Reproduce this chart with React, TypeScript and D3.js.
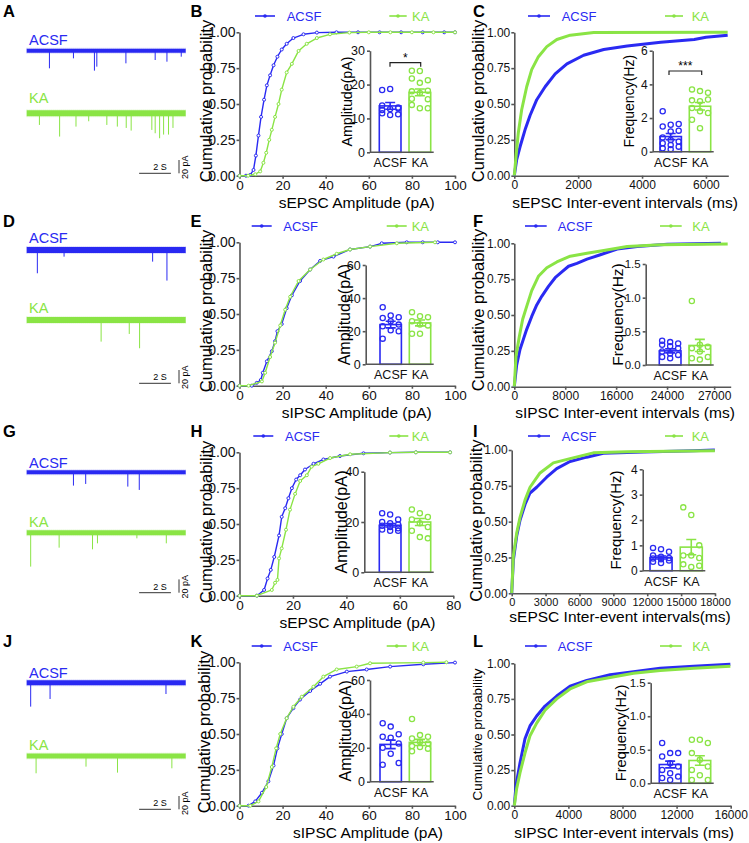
import React, { useRef, useEffect } from 'react';
import * as d3 from 'd3';

type Pt = [number, number];

const FONT = '"Liberation Sans", Arial, Helvetica, sans-serif';
const BLUE = '#2a2af2';
const GREEN = '#8ae445';
const AXIS = '#565656';

const groups = ['ACSF', 'KA'];
const probTicks = [0, 0.25, 0.5, 0.75, 1];

// example traces: [time (s), event amplitude (pA)]
const traceA_ACSF: Pt[] = [[1.43, 26.5], [2.94, 11.5], [4.26, 30], [4.41, 24], [6.24, 19], [8.08, 14], [8.82, 16.5], [9.72, 9]];
const traceA_KA: Pt[] = [[0.8, 17.5], [2.07, 35], [3.1, 20], [3.9, 12], [5.04, 17.5], [5.7, 20], [6.26, 22], [6.57, 26], [7.87, 25], [8.08, 30], [8.36, 37.5], [8.61, 32], [8.92, 32], [9.2, 22]];
const traceD_ACSF: Pt[] = [[0.67, 35], [2.35, 10], [7.92, 17.5], [8.82, 46]];
const traceD_KA: Pt[] = [[4.68, 32.5], [6.45, 21], [7.1, 42.5]];
const traceG_ACSF: Pt[] = [[2.94, 20], [3.71, 17.5], [6.36, 21.5], [7.08, 26.5]];
const traceG_KA: Pt[] = [[0.25, 51], [2.04, 22.5], [4.14, 25], [4.45, 16], [6.93, 8.5], [8.78, 16]];
const traceJ_ACSF: Pt[] = [[0.25, 36], [1.47, 24.5], [8.76, 17]];
const traceJ_KA: Pt[] = [[0.59, 26], [3.73, 16], [5.71, 25], [9.13, 18.5]];

// cumulative probability curves: [value, probability]
const cdfB_ACSF: Pt[] = [[0, 0], [3, 0], [5, 0.005], [6.5, 0.04], [7.6, 0.14], [8.8, 0.28], [10, 0.41], [11.4, 0.53], [12.7, 0.63], [14.2, 0.7], [15.8, 0.77], [17.6, 0.83], [19.6, 0.88], [21.9, 0.92], [25, 0.96], [29.7, 0.986], [35.9, 0.998], [45, 1], [55, 1], [65, 1], [75, 1], [85, 1], [95, 1], [100, 1]];
const cdfB_KA: Pt[] = [[0, 0], [4, 0], [7.3, 0.01], [9.6, 0.03], [11.1, 0.09], [12.4, 0.16], [13.8, 0.25], [15, 0.32], [16.5, 0.41], [18.1, 0.5], [19.6, 0.6], [21.9, 0.72], [24.3, 0.78], [27.4, 0.87], [31.2, 0.92], [35.9, 0.96], [42, 0.986], [51, 0.998], [60, 1], [70, 1], [80, 1], [90, 1], [100, 1]];
const cdfC_ACSF: Pt[] = [[0, 0], [73, 0.11], [178, 0.2], [336, 0.32], [493, 0.42], [703, 0.53], [965, 0.62], [1280, 0.71], [1647, 0.78], [2171, 0.84], [2800, 0.88], [3535, 0.905], [4584, 0.93], [5633, 0.95], [6000, 0.965], [6680, 0.98]];
const cdfC_KA: Pt[] = [[0, 0], [52, 0.13], [126, 0.3], [231, 0.46], [388, 0.62], [545, 0.74], [755, 0.83], [1017, 0.9], [1332, 0.95], [1752, 0.98], [2486, 0.998], [6680, 1]];
const cdfE_ACSF: Pt[] = [[0, 0], [5.7, 0], [8, 0.02], [9.9, 0.04], [10.8, 0.09], [12.7, 0.17], [15, 0.24], [16.5, 0.31], [17.6, 0.38], [19.6, 0.43], [21.9, 0.54], [24.3, 0.63], [28.1, 0.73], [32.8, 0.81], [37.4, 0.87], [43.6, 0.9], [51.3, 0.95], [60.6, 0.97], [66, 0.993], [77.6, 1], [85, 1], [92, 1], [100, 1]];
const cdfE_KA: Pt[] = [[0, 0], [4.2, 0], [10.4, 0.03], [11.9, 0.09], [14.2, 0.2], [16.5, 0.3], [18.9, 0.42], [21.2, 0.53], [23.5, 0.62], [27.4, 0.73], [32.8, 0.81], [38.9, 0.88], [45.1, 0.92], [51.3, 0.95], [60.6, 0.97], [73, 0.993], [90.7, 1]];
const cdfF_ACSF: Pt[] = [[0, 0], [368, 0.15], [895, 0.26], [1421, 0.33], [1947, 0.4], [2737, 0.49], [3526, 0.57], [4316, 0.63], [5368, 0.7], [6421, 0.76], [7474, 0.8], [8526, 0.84], [9842, 0.86], [11421, 0.89], [13526, 0.92], [16158, 0.96], [19316, 0.977], [24053, 0.993], [32474, 1]];
const cdfF_KA: Pt[] = [[0, 0], [263, 0.21], [789, 0.35], [1316, 0.47], [1947, 0.56], [2737, 0.67], [3789, 0.77], [5105, 0.83], [6684, 0.87], [8789, 0.91], [11421, 0.93], [14053, 0.95], [17737, 0.977], [23000, 0.99], [33526, 0.995]];
const cdfH_ACSF: Pt[] = [[0, 0], [6.5, 0], [9.2, 0.04], [10.5, 0.12], [11.7, 0.18], [13, 0.27], [14.8, 0.42], [15.8, 0.55], [17.1, 0.61], [18.3, 0.68], [19.6, 0.75], [21.2, 0.81], [22.7, 0.84], [24.5, 0.88], [27.7, 0.92], [31.4, 0.95], [37.6, 0.974], [46.4, 0.993], [56.3, 0.998], [66, 1], [78.8, 1]];
const cdfH_KA: Pt[] = [[0, 0], [6.5, 0], [12.1, 0.04], [13.3, 0.09], [14.2, 0.11], [14.8, 0.26], [15.8, 0.33], [17.4, 0.46], [18.9, 0.6], [20.8, 0.71], [22.7, 0.8], [25.2, 0.84], [27, 0.9], [29.5, 0.92], [33.9, 0.96], [41.4, 0.986], [56.3, 0.998], [66, 1], [78.8, 1]];
const cdfI_ACSF: Pt[] = [[0, 0], [147, 0.23], [442, 0.4], [737, 0.51], [1180, 0.62], [1622, 0.7], [2212, 0.74], [3097, 0.81], [3982, 0.87], [5162, 0.92], [6637, 0.95], [8112, 0.977], [11652, 0.986], [16076, 0.995], [17990, 1]];
const cdfI_KA: Pt[] = [[0, 0], [147, 0.26], [442, 0.42], [737, 0.53], [1180, 0.65], [1622, 0.74], [2507, 0.84], [3687, 0.91], [5162, 0.94], [7227, 0.98], [10177, 0.988], [17990, 0.995]];
const cdfK_ACSF: Pt[] = [[0, 0], [4.2, 0], [7.3, 0.03], [10.4, 0.09], [13.4, 0.17], [15.8, 0.28], [17.6, 0.4], [19.6, 0.5], [21.9, 0.61], [25, 0.68], [28.1, 0.74], [32.8, 0.8], [37.4, 0.85], [42, 0.9], [49.8, 0.935], [59, 0.95], [69.9, 0.97], [85.3, 0.986], [100, 0.998]];
const cdfK_KA: Pt[] = [[0, 0], [5, 0], [8.8, 0.03], [12.4, 0.13], [15, 0.27], [17, 0.4], [18.9, 0.5], [21.9, 0.61], [25, 0.69], [28.9, 0.76], [34.3, 0.83], [38.9, 0.9], [45.1, 0.95], [54.4, 0.97], [60.6, 0.993], [85.3, 0.998], [96, 1]];
const cdfL_ACSF: Pt[] = [[0, 0], [123, 0.14], [420, 0.3], [790, 0.47], [1160, 0.56], [1654, 0.63], [2272, 0.7], [3136, 0.77], [4123, 0.84], [5358, 0.88], [7086, 0.92], [8815, 0.94], [10790, 0.965], [13259, 0.98], [15975, 0.993]];
const cdfL_KA: Pt[] = [[0, 0], [173, 0.12], [420, 0.23], [790, 0.37], [1160, 0.49], [1654, 0.58], [2272, 0.67], [3136, 0.75], [4123, 0.82], [5358, 0.87], [7086, 0.9], [8815, 0.93], [10790, 0.95], [13259, 0.965], [15975, 0.98]];

// inset bars: individual cells, group means, SEM
const barB_ACSF = [18.4, 18.7, 13.2, 13.8, 12.8, 11.2, 11.5, 11.0, 13.0, 12.5];
const barB_KA = [24.1, 24.0, 21.3, 21.8, 20.5, 18.2, 18.0, 17.5, 15.7, 15.8, 13.0, 13.0, 14.0];
const meanB = [13.7, 17.7];
const semB = [1.0, 1.0];
const barC_ACSF = [2.4, 1.6, 1.65, 1.5, 1.2, 1.25, 0.85, 0.7, 0.6, 0.5, 0.4, 0.3, 0.2, 0.15];
const barC_KA = [3.7, 3.6, 3.5, 3.05, 3.0, 3.1, 2.6, 2.4, 2.3, 1.9, 1.4];
const meanC = [0.9, 2.7];
const semC = [0.18, 0.22];
const barE_ACSF = [34.5, 29.5, 28.5, 28, 26, 24, 23, 20.5, 20, 15.5];
const barE_KA = [31.5, 29, 28.5, 26, 24, 23.5, 18.5, 18.5];
const meanE = [24, 25];
const semE = [2, 1.8];
const barF_ACSF = [0.36, 0.34, 0.32, 0.3, 0.28, 0.25, 0.2, 0.17, 0.15, 0.12, 0.1];
const barF_KA = [0.95, 0.3, 0.27, 0.25, 0.2, 0.12, 0.1, 0.08];
const meanF = [0.21, 0.29];
const semF = [0.03, 0.09];
const barH_ACSF = [23.5, 23, 21, 20, 19.5, 19, 18.5, 18, 17.5, 17, 16.5, 16.5];
const barH_KA = [25, 23.5, 22, 21, 19.5, 18, 16.5, 14, 13.5];
const meanH = [18.7, 20];
const semH = [0.7, 1.4];
const barI_ACSF = [0.9, 0.85, 0.75, 0.6, 0.55, 0.5, 0.48, 0.45, 0.4, 0.35, 0.3];
const barI_KA = [2.5, 2.2, 1.0, 0.6, 0.6, 0.5, 0.25, 0.15, 0.2];
const meanI = [0.52, 0.93];
const semI = [0.06, 0.3];
const barK_ACSF = [34.5, 32.5, 28, 26.5, 26, 22.5, 20, 16.5, 11, 10];
const barK_KA = [37, 27.5, 26.5, 25.5, 23.5, 22.5, 21, 20.5, 19.5, 18];
const meanK = [22, 23.2];
const semK = [2.5, 1.8];
const barL_ACSF = [0.6, 0.45, 0.45, 0.4, 0.3, 0.25, 0.2, 0.15, 0.1, 0.08, 0.05];
const barL_KA = [0.65, 0.65, 0.6, 0.45, 0.35, 0.25, 0.2, 0.12, 0.05, 0.05];
const meanL = [0.28, 0.34];
const semL = [0.05, 0.07];

function Axis({ scale, orient, tx = 0, ty = 0, ticks, labels, fmt, fontSize, tickSize = 3, pad = 1, hideDomain = false }: any) {
  const ref = useRef<SVGGElement>(null);
  useEffect(() => {
    const gen: any = orient === 'left' ? d3.axisLeft(scale) : d3.axisBottom(scale);
    gen.tickSizeOuter(0).tickSizeInner(tickSize).tickPadding(pad);
    if (ticks) gen.tickValues(ticks);
    if (labels) gen.tickFormat((_d: any, i: number) => labels[i]);
    else if (fmt) gen.tickFormat(fmt);
    const g = d3.select(ref.current);
    g.selectAll('*').remove();
    g.call(gen);
    g.attr('font-family', FONT).attr('font-size', fontSize);
    g.select('.domain').attr('stroke', AXIS).attr('stroke-width', 1.6).attr('display', hideDomain ? 'none' : null);
    g.selectAll('.tick line').attr('stroke', AXIS).attr('stroke-width', 1.6);
    g.selectAll('.tick text').attr('fill', '#111');
  });
  return <g ref={ref} transform={`translate(${tx},${ty})`} />;
}

function CdfPanel({ p }: any) {
  const xs = d3.scaleLinear().domain(p.domain).range([p.x0, p.x1]);
  const ys = d3.scaleLinear().domain([0, 1]).range([p.yBot, p.yTop]);
  const line = d3.line<Pt>().x(d => xs(d[0])).y(d => ys(d[1]));
  const series = [{ data: p.acsf, color: BLUE }, { data: p.ka, color: GREEN }];
  return (
    <g>
      <Axis scale={ys} orient="left" tx={p.x0} ticks={probTicks} fmt={d3.format('.2f')} fontSize={p.yTickFont} />
      <Axis scale={xs} orient="bottom" ty={p.yBot} ticks={p.xTicks} labels={p.xLabels} fmt={d3.format('d')} fontSize={p.xTickFont} pad={2} />
      {series.map((s, i) => (
        <g key={i}>
          <path d={line(s.data) || ''} fill="none" stroke={s.color} strokeWidth={p.lw} strokeLinejoin="round" />
          {p.markers && s.data.map((d: Pt, j: number) => (
            <circle key={j} cx={xs(d[0])} cy={ys(d[1])} r={1.5} fill="#fff" stroke={s.color} strokeWidth={1} />
          ))}
        </g>
      ))}
      <text transform={`translate(${p.yTitleX},${(p.yTop + p.yBot) / 2 + p.yTitleDy}) rotate(-90)`} textAnchor="middle"
        dominantBaseline="central" fontSize={p.yTitleSize}>Cumulative probability</text>
      <text x={p.xTitleX} y={p.xTitleY} textAnchor="middle" dominantBaseline="central" fontSize={15.5}>{p.xTitle}</text>
    </g>
  );
}

const spread = [-8, 0, 8];

function Inset({ p }: any) {
  const ys = d3.scaleLinear().domain([0, p.max]).range([p.yBot, p.yTop]);
  const band = d3.scaleBand().domain(groups).range([p.bx0, p.bx1]).paddingInner(0.27);
  const bw = band.bandwidth();
  const cols = [BLUE, GREEN];
  const pts = [p.acsf, p.ka];
  return (
    <g>
      {groups.map((g, i) => {
        const cx = (band(g) as number) + bw / 2;
        const m = p.mean[i], s = p.sem[i];
        return (
          <g key={g}>
            <rect x={band(g)} y={ys(m)} width={bw} height={p.yBot - ys(m)} fill="none" stroke={cols[i]} strokeWidth={1.6} />
            {pts[i].map((v: number, j: number) => (
              <circle key={j} cx={cx + spread[j % 3]} cy={ys(v)} r={2.6} fill="none" stroke={cols[i]} strokeWidth={1.3} />
            ))}
            <path d={`M${cx},${ys(m - s)}V${ys(m + s)}M${cx - 5},${ys(m + s)}H${cx + 5}M${cx - 5},${ys(m - s)}H${cx + 5}`}
              stroke={cols[i]} strokeWidth={1.6} fill="none" />
          </g>
        );
      })}
      <Axis scale={ys} orient="left" tx={p.ax} ticks={p.ticks} fmt={p.fmt} fontSize={p.tickFont} tickSize={3} pad={2} />
      <line x1={p.ax} x2={p.bx1 + 3} y1={p.yBot} y2={p.yBot} stroke={AXIS} strokeWidth={1.6} />
      <Axis scale={band} orient="bottom" ty={p.yBot} fontSize={12.5} tickSize={0} pad={6} hideDomain />
      <text transform={`translate(${p.titleX},${(p.yTop + p.yBot) / 2}) rotate(-90)`} textAnchor="middle"
        dominantBaseline="central" fontSize={p.titleSize}>{p.title}</text>
      {p.sig && (
        <g>
          <path d={`M${p.sig.x1},${p.sig.y + 4}V${p.sig.y}H${p.sig.x2}V${p.sig.y + 4}`} fill="none" stroke="#222" strokeWidth={1.2} />
          <text x={(p.sig.x1 + p.sig.x2) / 2} y={p.sig.y - 1} textAnchor="middle" fontSize={12}>{p.sig.text}</text>
        </g>
      )}
    </g>
  );
}

const tScale = d3.scaleLinear().domain([0, 10]).range([26.7, 185.7]);
const aScale = d3.scaleLinear().domain([0, 20]).range([0, 13.3]);

function Trace({ p }: any) {
  const rows = [
    { spikes: p.acsf, y: p.yA, ly: p.lyA, color: BLUE, name: 'ACSF', w: p.wA },
    { spikes: p.ka, y: p.yK, ly: p.lyK, color: GREEN, name: 'KA', w: p.wK },
  ];
  const x0 = tScale(7.07), x1 = x0 + tScale(2) - tScale(0);
  const vx = 179;
  return (
    <g>
      {rows.map(r => (
        <g key={r.name}>
          <text x={29} y={r.ly} dominantBaseline="central" fontSize={14.5} fill={r.color}>{r.name}</text>
          <line x1={tScale(0)} x2={tScale(10)} y1={r.y} y2={r.y} stroke={r.color} strokeWidth={r.w} />
          <line x1={tScale(0)} x2={tScale(10)} y1={r.y} y2={r.y} stroke={r.color} strokeWidth={r.w + 2}
            strokeDasharray="0.7 1.3" opacity={0.4} />
          {r.spikes.map((s: Pt, i: number) => (
            <line key={i} x1={tScale(s[0])} x2={tScale(s[0])} y1={r.y} y2={r.y + aScale(s[1])} stroke={r.color} strokeWidth={1} />
          ))}
        </g>
      ))}
      <path d={`M${x0},${p.sb}H${x1}`} stroke="#333" strokeWidth={1} />
      <path d={`M${vx},${p.sb - aScale(20)}V${p.sb}`} stroke="#333" strokeWidth={1} />
      <text x={(x0 + x1) / 2 + 5} y={p.sb - 3} textAnchor="middle" fontSize={9}>2 S</text>
      <text transform={`translate(${vx + 6},${p.sb - 6}) rotate(-90)`} textAnchor="middle" dominantBaseline="central" fontSize={9}>20 pA</text>
    </g>
  );
}

function Legend({ y, a }: any) {
  const items = [
    { x1: a[0], x2: a[1], tx: a[2], c: BLUE, t: 'ACSF' },
    { x1: a[3], x2: a[4], tx: a[5], c: GREEN, t: 'KA' },
  ];
  return (
    <g>
      {items.map(it => (
        <g key={it.t}>
          <line x1={it.x1} x2={it.x2} y1={y} y2={y} stroke={it.c} strokeWidth={1.6} />
          <circle cx={(it.x1 + it.x2) / 2} cy={y} r={1.8} fill={it.c} />
          <text x={it.tx} y={y} dominantBaseline="central" fontSize={13} fill={it.c}>{it.t}</text>
        </g>
      ))}
    </g>
  );
}

const ampBase = { x0: 239.5, markers: true, lw: 1.4, yTickFont: 14, xTickFont: 13.5, yTitleX: 205.5, yTitleSize: 16.5, yTitleDy: -3 };
const intBase = { markers: false, lw: 3, yTickFont: 12, xTickFont: 12, yTitleX: 477.5, yTitleSize: 16.5, yTitleDy: -3 };

const cdfPanels = [
  { ...ampBase, x1: 455, yTop: 32.3, yBot: 175.7, domain: [0, 100], xTicks: [0, 20, 40, 60, 80, 100], acsf: cdfB_ACSF, ka: cdfB_KA, xTitle: 'sEPSC Amplitude (pA)', xTitleX: 356.7, xTitleY: 202.5 },
  { ...intBase, x0: 514.3, x1: 728.3, yTop: 32.3, yBot: 175.7, domain: [0, 6700], xTicks: [0, 2000, 4000, 6000], acsf: cdfC_ACSF, ka: cdfC_KA, xTitle: 'sEPSC Inter-event intervals (ms)', xTitleX: 625, xTitleY: 202 },
  { ...ampBase, x1: 455, yTop: 242.3, yBot: 385.7, domain: [0, 100], xTicks: [0, 20, 40, 60, 80, 100], acsf: cdfE_ACSF, ka: cdfE_KA, xTitle: 'sIPSC Amplitude (pA)', xTitleX: 356.7, xTitleY: 412.5 },
  { ...intBase, x0: 514.3, x1: 730.7, yTop: 243.3, yBot: 386.7, domain: [0, 34000], xTicks: [0, 8000, 16000, 24000, 31400], xLabels: ['0', '8000', '16000', '24000', '27000'], acsf: cdfF_ACSF, ka: cdfF_KA, xTitle: 'sIPSC Inter-event intervals (ms)', xTitleX: 625, xTitleY: 412, yTitleDy: -5 },
  { ...ampBase, x1: 453.3, yTop: 452.3, yBot: 595.7, domain: [0, 80], xTicks: [0, 20, 40, 60, 80], acsf: cdfH_ACSF, ka: cdfH_KA, xTitle: 'sEPSC Amplitude (pA)', xTitleX: 357.5, xTitleY: 622, yTitleDy: -2 },
  { ...intBase, x0: 511.7, x1: 715, yTop: 450, yBot: 593.3, domain: [0, 18000], xTicks: [0, 3000, 6000, 9000, 12000, 15000, 18000], xTickFont: 11, acsf: cdfI_ACSF, ka: cdfI_KA, xTitle: 'sEPSC Inter-event intervals(ms)', xTitleX: 620, xTitleY: 616, yTitleX: 476, yTitleDy: -1 },
  { ...ampBase, x1: 455, yTop: 662.3, yBot: 805.7, domain: [0, 100], xTicks: [0, 20, 40, 60, 80, 100], acsf: cdfK_ACSF, ka: cdfK_KA, xTitle: 'sIPSC Amplitude (pA)', xTitleX: 368, xTitleY: 832.5, yTitleX: 204, yTitleDy: -2 },
  { ...intBase, x0: 514.3, x1: 730.7, yTop: 663.3, yBot: 805.7, domain: [0, 16000], xTicks: [0, 4000, 8000, 12000, 16000], acsf: cdfL_ACSF, ka: cdfL_KA, xTitle: 'sIPSC Inter-event intervals (ms)', xTitleX: 624, xTitleY: 832, yTitleSize: 13.4, yTitleDy: 0, yTitleX: 477 },
];

const f0 = d3.format('d');
const f1 = d3.format('.1f');
const insets = [
  { ax: 370, yTop: 50.7, yBot: 152.3, max: 30, ticks: [0, 10, 20, 30], fmt: f0, tickFont: 12.5, bx0: 379.3, bx1: 430.7, acsf: barB_ACSF, ka: barB_KA, mean: meanB, sem: semB, title: 'Amplitude(pA)', titleX: 346.5, titleSize: 14.2, sig: { x1: 390, x2: 420.7, y: 62.7, text: '*' } },
  { ax: 652.7, yTop: 50.7, yBot: 151.7, max: 6, ticks: [0, 2, 4, 6], fmt: f0, tickFont: 12, bx0: 660, bx1: 710.7, acsf: barC_ACSF, ka: barC_KA, mean: meanC, sem: semC, title: 'Frequency(Hz)', titleX: 629, titleSize: 14, sig: { x1: 669, x2: 701.7, y: 71, text: '***' } },
  { ax: 365.7, yTop: 265, yBot: 364.3, max: 60, ticks: [0, 20, 40, 60], fmt: f0, tickFont: 12.5, bx0: 380, bx1: 430.7, acsf: barE_ACSF, ka: barE_KA, mean: meanE, sem: semE, title: 'Amplitude(pA)', titleX: 344, titleSize: 16 },
  { ax: 645.7, yTop: 264, yBot: 365, max: 1.5, ticks: [0, 0.5, 1, 1.5], fmt: f1, tickFont: 11.5, bx0: 659.3, bx1: 710.7, acsf: barF_ACSF, ka: barF_KA, mean: meanF, sem: semF, title: 'Frequency(Hz)', titleX: 617.5, titleSize: 15.5 },
  { ax: 364.3, yTop: 471.7, yBot: 572.3, max: 40, ticks: [0, 20, 40], fmt: f0, tickFont: 12.5, bx0: 379.3, bx1: 430.7, acsf: barH_ACSF, ka: barH_KA, mean: meanH, sem: semH, title: 'Amplitude(pA)', titleX: 341, titleSize: 16.3 },
  { ax: 642.7, yTop: 469.3, yBot: 570.7, max: 4, ticks: [0, 1, 2, 3, 4], fmt: f0, tickFont: 12, bx0: 650, bx1: 702.3, acsf: barI_ACSF, ka: barI_KA, mean: meanI, sem: semI, title: 'Frequency(Hz)', titleX: 615.3, titleSize: 15 },
  { ax: 370, yTop: 680, yBot: 781.7, max: 60, ticks: [0, 20, 40, 60], fmt: f0, tickFont: 12.5, bx0: 380, bx1: 430.7, acsf: barK_ACSF, ka: barK_KA, mean: meanK, sem: semK, title: 'Amplitude(pA)', titleX: 345, titleSize: 16 },
  { ax: 650.7, yTop: 682.7, yBot: 783.3, max: 1.5, ticks: [0, 0.5, 1, 1.5], fmt: f1, tickFont: 11.5, bx0: 659.3, bx1: 710.7, acsf: barL_ACSF, ka: barL_KA, mean: meanL, sem: semL, title: 'Frequency(Hz)', titleX: 621, titleSize: 14.6 },
];

const traces = [
  { acsf: traceA_ACSF, ka: traceA_KA, yA: 50.7, lyA: 40, yK: 113.3, lyK: 98, wA: 4, wK: 6, sb: 173.3 },
  { acsf: traceD_ACSF, ka: traceD_KA, yA: 250, lyA: 238.3, yK: 320, lyK: 308.3, wA: 6, wK: 6, sb: 383.3 },
  { acsf: traceG_ACSF, ka: traceG_KA, yA: 472.3, lyA: 462.7, yK: 532.7, lyK: 521.7, wA: 4, wK: 5, sb: 592.7 },
  { acsf: traceJ_ACSF, ka: traceJ_KA, yA: 682.7, lyA: 672.7, yK: 756, lyK: 745, wA: 5, wK: 5, sb: 809.3 },
];

const legends = [
  { y: 16, a: [255, 275, 286.7, 389.3, 406.7, 412] },
  { y: 16, a: [528, 550, 561.7, 665, 683, 691.7] },
  { y: 226, a: [251.7, 271.7, 283.3, 386.7, 406.7, 411.7] },
  { y: 226, a: [525, 546.7, 557.7, 660, 681.7, 692.3] },
  { y: 436, a: [253.3, 273.3, 285, 389.3, 408.3, 411.7] },
  { y: 436, a: [528, 550, 561.7, 665, 683, 691.7] },
  { y: 646, a: [251.7, 271.7, 283.3, 386.7, 406.7, 411.7] },
  { y: 646, a: [525, 546.7, 557.7, 660, 681.7, 692.3] },
];

const letters = ['A', 'B', 'C', 'D', 'E', 'F', 'G', 'H', 'I', 'J', 'K', 'L'];
const letterX = [3, 190.5, 473];

export default function App() {
  return (
    <svg width={749} height={843} fontFamily={FONT} style={{ position: 'absolute', left: 0, top: 0, background: '#fff' }}>
      {letters.map((l, i) => (
        <text key={l} x={letterX[i % 3]} y={16.7 + Math.floor(i / 3) * 210} fontSize={16.5} fontWeight="bold">{l}</text>
      ))}
      {traces.map((t, i) => <Trace key={i} p={t} />)}
      {cdfPanels.map((p, i) => <CdfPanel key={i} p={p} />)}
      {insets.map((p, i) => <Inset key={i} p={p} />)}
      {legends.map((l, i) => <Legend key={i} y={l.y} a={l.a} />)}
    </svg>
  );
}
